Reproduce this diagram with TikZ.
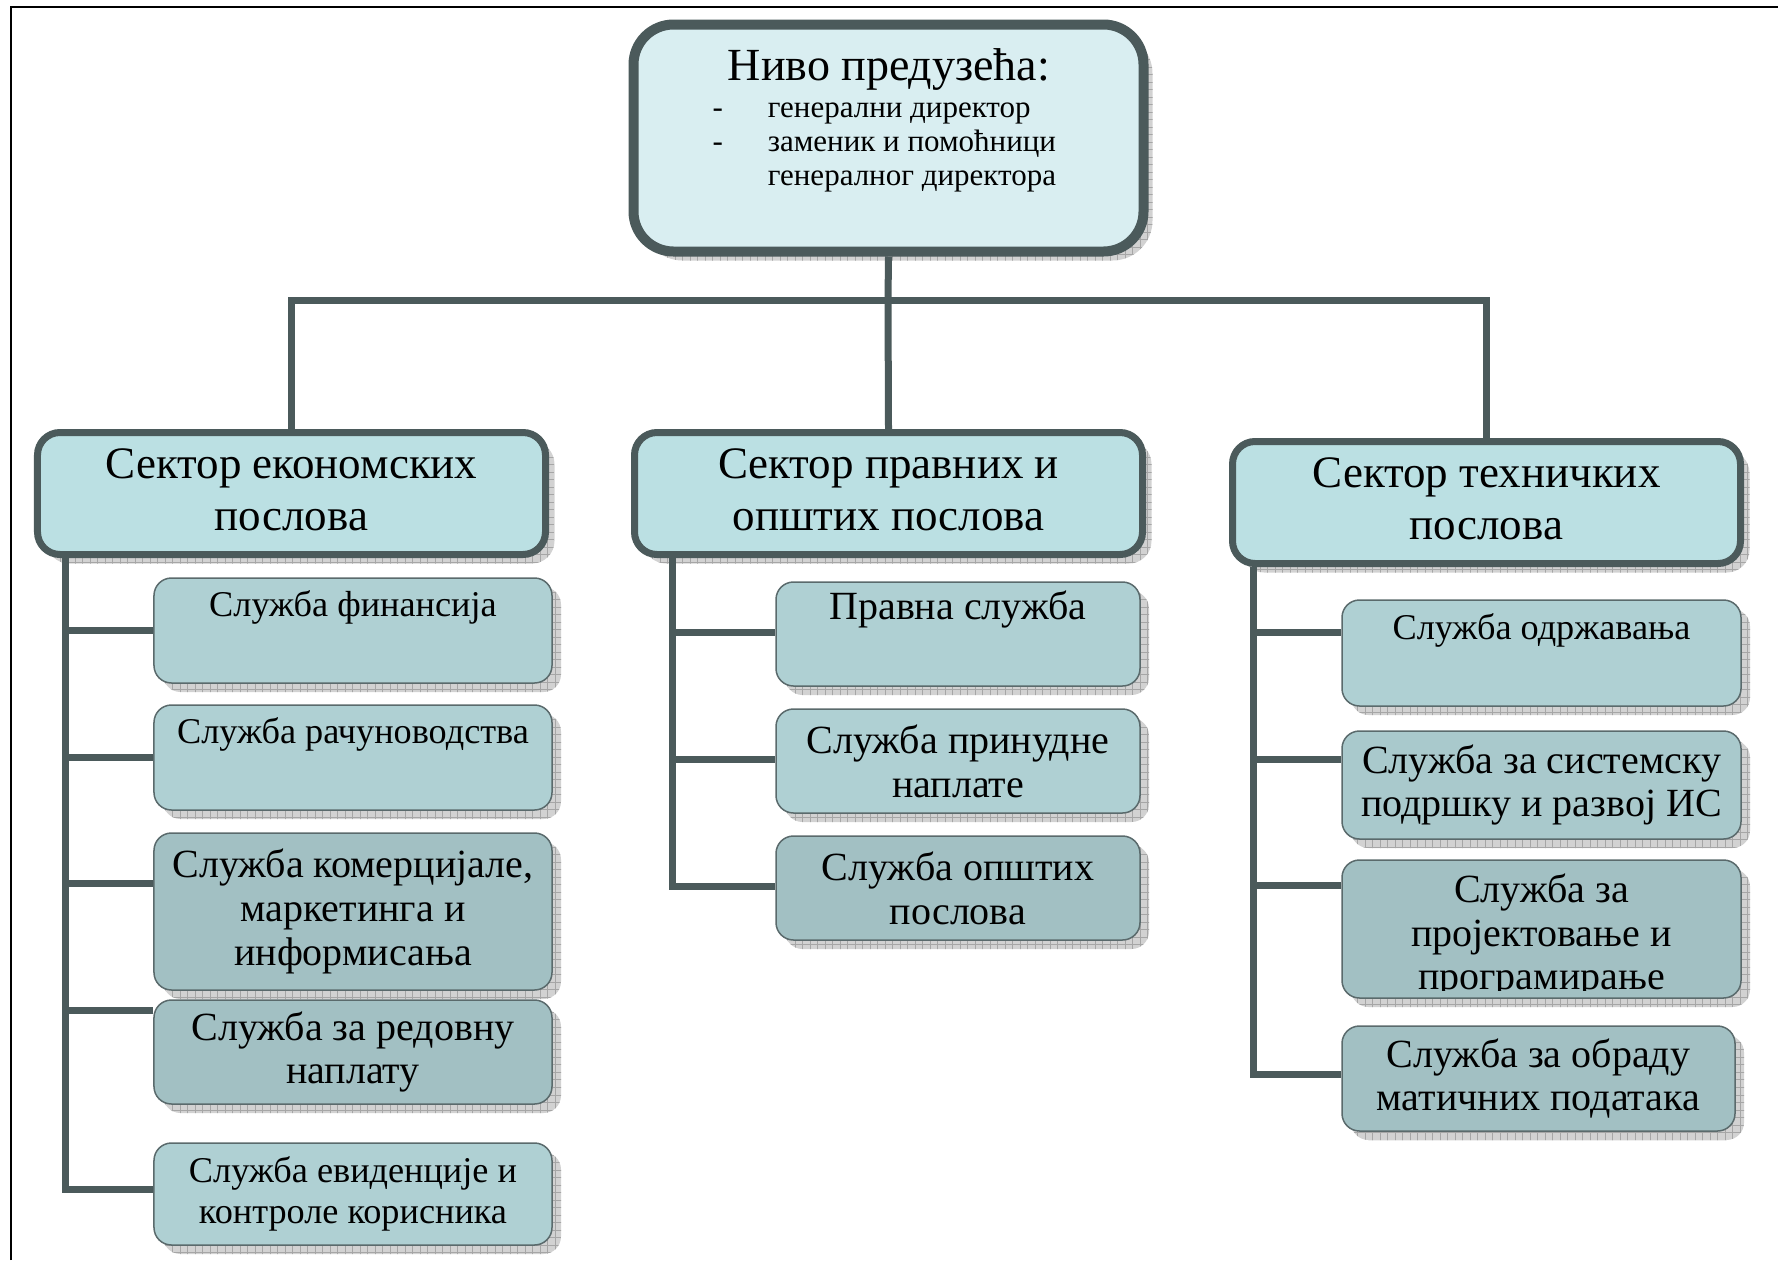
\documentclass[tikz,border=0pt]{standalone}
\usepackage{fontspec}
\setmainfont{Liberation Serif}
\usetikzlibrary{patterns}
\definecolor{linec}{HTML}{4B5A5B}
\definecolor{topfill}{HTML}{D9EEF1}
\definecolor{secfill}{HTML}{BBE0E3}
\definecolor{svclight}{HTML}{AFD0D3}
\definecolor{svcmid}{HTML}{A9C9CC}
\definecolor{svcdark}{HTML}{A2C0C3}
\definecolor{svcborder}{HTML}{5A6A6C}
\definecolor{shadowc}{HTML}{D2D2D2}
\definecolor{shadowgrid}{HTML}{A6A6A6}
\begin{document}
\begin{tikzpicture}[x=0.4pt,y=-0.4pt,
  shad/.style={preaction={fill=shadowc, transform canvas={shift={(3.6pt,-3.6pt)}}},
               preaction={pattern=grid, pattern color=shadowgrid, transform canvas={shift={(3.6pt,-3.6pt)}}}},
  topbox/.style={shad, draw=linec, line width=4pt, fill=topfill, rounded corners=16pt,
                 minimum width=204pt, minimum height=90.8pt, inner sep=0pt},
  secbox/.style={shad, draw=linec, line width=2.8pt, fill=secfill, rounded corners=9pt,
                 minimum width=203.2pt, minimum height=48.8pt, align=center, inner sep=0pt,
                 font=\fontsize{18}{20.8}\selectfont},
  sectxt/.style={align=center, inner sep=0pt, font=\fontsize{18}{20.8}\selectfont},
  svc/.style={shad, draw=svcborder, line width=0.6pt, rounded corners=7pt, align=center, inner sep=0pt},
  small/.style={font=\fontsize{14.5}{16.5}\selectfont},
  big/.style={font=\fontsize{16}{17.5}\selectfont},
  conn/.style={draw=linec, line width=2.8pt},
  txt/.style={inner sep=0pt}
]
\useasboundingbox (0,0) rectangle (1778,1260);
% frame
\draw[line width=1pt] (11,1260) -- (11,7) -- (1778,7);

% top box
\node[topbox] (top) at (888.5,138) {};
\node[txt, anchor=base, font=\fontsize{18.4}{20}\selectfont] (toptitle) at (889,80) {Ниво предузећа:};
\node[txt, anchor=base west, font=\fontsize{12.4}{13.6}\selectfont] (toplist) at (712,117)
  {\begin{tabular}[t]{@{}l@{\hspace{18pt}}l@{}}
   - & генерални директор\\
   - & заменик и помоћници\\
     & генералног директора
   \end{tabular}};

% sectors
\node[secbox] (sec1) at (291.5,493.5) {};
\node[sectxt] (sec1t) at (291.5,490) {Сектор економских\\послова};
\node[secbox] (sec2) at (888.5,493.5) {};
\node[sectxt] (sec2t) at (888.5,490) {Сектор правних и\\општих послова};
\node[secbox] (sec3) at (1486.5,502.5) {};
\node[sectxt] (sec3t) at (1486.5,499) {Сектор техничких\\послова};

% connectors top
\coordinate (bar) at (888,300);
\draw[conn] (top.south) -- (bar);
\draw[conn] (sec1.north) |- (bar) -- (bar -| sec3.north) -- (sec3.north);
\draw[conn] (bar) -- (sec2.north);

% left services
\node[svc, small, fill=svclight, minimum width=159.2pt, minimum height=42pt] (s11) at (353,630.5) {Служба финансија\\ \strut};
\node[svc, small, fill=svclight, minimum width=159.2pt, minimum height=42pt] (s12) at (353,757.5) {Служба рачуноводства\\ \strut};
\node[svc, big, fill=svcdark, minimum width=159.2pt, minimum height=62.8pt] (s13) at (353,911.5) {Служба комерцијале,\\маркетинга и\\информисања};
\node[svc, big, fill=svcdark, minimum width=159.2pt, minimum height=41.6pt] (s14) at (353,1052) {Служба за редовну\\наплату};
\node[svc, small, fill=svclight, minimum width=159.2pt, minimum height=40.8pt] (s15) at (353,1194) {Служба евиденције и\\контроле корисника};

\coordinate (l0) at (65,558);
\coordinate (l1) at (65,630);
\coordinate (l2) at (65,757);
\coordinate (l3) at (65,883);
\coordinate (l4) at (65,1010);
\coordinate (l5) at (65,1189);
\draw[conn] (l0) -- (l5) -- (l5 -| s15.west);
\draw[conn] (l1) -- (l1 -| s11.west);
\draw[conn] (l2) -- (l2 -| s12.west);
\draw[conn] (l3) -- (l3 -| s13.west);
\draw[conn] (l4) -- (l4 -| s14.west);

% middle services
\node[svc, big, fill=svclight, minimum width=145.6pt, minimum height=41.6pt] (s21) at (958,634) {Правна служба\\ \strut};
\node[svc, big, fill=svclight, minimum width=145.6pt, minimum height=41.6pt] (s22) at (958,761) {Служба принудне\\наплате};
\node[svc, big, fill=svcdark, minimum width=145.6pt, minimum height=41.6pt] (s23) at (958,888) {Служба општих\\послова};

\coordinate (m0) at (672,558);
\coordinate (m1) at (672,632);
\coordinate (m2) at (672,759);
\coordinate (m3) at (672,886);
\draw[conn] (m0) -- (m3) -- (m3 -| s23.west);
\draw[conn] (m1) -- (m1 -| s21.west);
\draw[conn] (m2) -- (m2 -| s22.west);

% right services
\node[svc, small, fill=svclight, minimum width=159.6pt, minimum height=42.4pt] (s31) at (1541.5,653) {Служба одржавања\\ \strut};
\node[svc, big, fill=svcmid, minimum width=159.6pt, minimum height=43.2pt] (s32) at (1541.5,785) {Служба за системску\\подршку и развој ИС};
\node[svc, big, fill=svcdark, minimum width=159.6pt, minimum height=55.2pt] (s33) at (1541.5,929) {};
\begin{scope}
  \clip (1342,860) rectangle (1741,990);
  \node[txt, big, align=center] (s33t) at (1541.5,936) {Служба за\\пројектовање и\\програмирање};
\end{scope}
\node[svc, big, fill=svcdark, minimum width=157.2pt, minimum height=42pt] (s34) at (1538.5,1078.5) {Служба за обраду\\матичних података};

\coordinate (r0) at (1253,567);
\coordinate (r1) at (1253,632);
\coordinate (r2) at (1253,759);
\coordinate (r3) at (1253,885);
\coordinate (r4) at (1253,1074);
\draw[conn] (r0) -- (r4) -- (r4 -| s34.west);
\draw[conn] (r1) -- (r1 -| s31.west);
\draw[conn] (r2) -- (r2 -| s32.west);
\draw[conn] (r3) -- (r3 -| s33.west);
\end{tikzpicture}
\end{document}
